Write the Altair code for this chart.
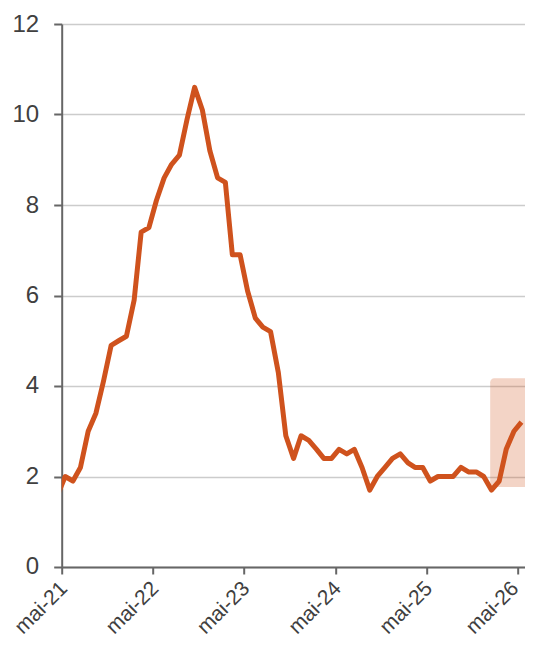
import altair as alt
import pandas as pd

# Monthly values, Apr-2021 .. May-2026 (points dated mid-month)
start_month = "2021-04"
values = [
    1.6, 2.0, 1.9, 2.2, 3.0, 3.4, 4.1, 4.9, 5.0,            # 2021 Apr-Dec
    5.1, 5.9, 7.4, 7.5, 8.1, 8.6, 8.9, 9.1, 9.9, 10.6, 10.1, 9.2,   # 2022
    8.6, 8.5, 6.9, 6.9, 6.1, 5.5, 5.3, 5.2, 4.3, 2.9, 2.4, 2.9,     # 2023
    2.8, 2.6, 2.4, 2.4, 2.6, 2.5, 2.6, 2.2, 1.7, 2.0, 2.2, 2.4,     # 2024
    2.5, 2.3, 2.2, 2.2, 1.9, 2.0, 2.0, 2.0, 2.2, 2.1, 2.1, 2.0,     # 2025
    1.7, 1.9, 2.6, 3.0, 3.2,                                # 2026 Jan-May
]
dates = [d.strftime("%Y-%m-15") for d in pd.date_range(start_month, periods=len(values), freq="MS")]

# x-axis ticks and labels
tick_dates = ["2021-05-01", "2022-05-01", "2023-05-01", "2024-05-01", "2025-05-01", "2026-05-01"]
tick_labels = ["mai-21", "mai-22", "mai-23", "mai-24", "mai-25", "mai-26"]
x_domain = ["2021-05-01", "2026-05-28"]
y_ticks = [0, 2, 4, 6, 8, 10, 12]

# shaded forecast band
band_start = ["2026-01-10"]
band_end = ["2026-06-15"]
band_low = [1.77]
band_high = [4.17]

line_color = "#CF521D"
df = pd.DataFrame({"date": dates, "value": values})
band_df = pd.DataFrame({"x": band_start, "x2": band_end, "y": band_low, "y2": band_high})


def to_dt(s):
    y, m, d = (int(p) for p in s.split("-"))
    return alt.DateTime(year=y, month=m, date=d, utc=True)


expr_parts = [f"utcFormat(datum.value, '%Y') == '{d[:4]}' ? '{lab}'" for d, lab in zip(tick_dates, tick_labels)]
label_expr = " : ".join(expr_parts) + " : ''"
last_label_test = f"utcFormat(datum.value, '%Y') == '{tick_dates[-1][:4]}'"

x_scale = alt.Scale(type="utc", domain=[to_dt(s) for s in x_domain])
y_scale = alt.Scale(domain=[0, 12])

x_axis = alt.Axis(
    values=[to_dt(s) for s in tick_dates],
    labelExpr=label_expr,
    labelAngle=-45,
    labelAlign="right",
    labelBaseline="middle",
    labelPadding=11,
    labelOffset={"condition": {"test": last_label_test, "value": -3}, "value": 2},
    labelFontSize=21,
    labelColor="#404040",
    labelFont="Liberation Sans",
    labelOverlap=False,
    tickSize=7,
    tickWidth=2,
    tickColor="#666666",
    domainColor="#666666",
    domainWidth=2,
    grid=False,
    title=None,
)
y_axis = alt.Axis(
    values=y_ticks,
    labelFontSize=24,
    labelColor="#404040",
    labelFont="Liberation Sans",
    labelPadding=15,
    tickSize=8,
    tickWidth=2,
    tickColor="#666666",
    domainColor="#666666",
    domainWidth=2,
    gridColor="#cccccc",
    gridWidth=1.7,
    title=None,
)

band = alt.Chart(band_df).mark_rect(
    color=line_color, opacity=0.25, cornerRadius=4
).encode(
    x=alt.X("x:T", scale=x_scale, axis=x_axis),
    x2="x2:T",
    y=alt.Y("y:Q", scale=y_scale, axis=y_axis),
    y2="y2:Q",
)

line = alt.Chart(df).mark_line(
    color=line_color, strokeWidth=5, clip=True, strokeJoin="round", strokeCap="butt"
).encode(
    x=alt.X("date:T", scale=x_scale, axis=x_axis),
    y=alt.Y("value:Q", scale=y_scale, axis=y_axis),
)

chart = alt.layer(band, line).properties(
    width=463,
    height=543,
    autosize=alt.AutoSizeParams(type="none"),
    padding={"left": 53.7, "top": 16, "right": 0, "bottom": 74},
).configure_view(stroke=None)

chart.save("out.html", embed_options={"renderer": "svg", "actions": False})
